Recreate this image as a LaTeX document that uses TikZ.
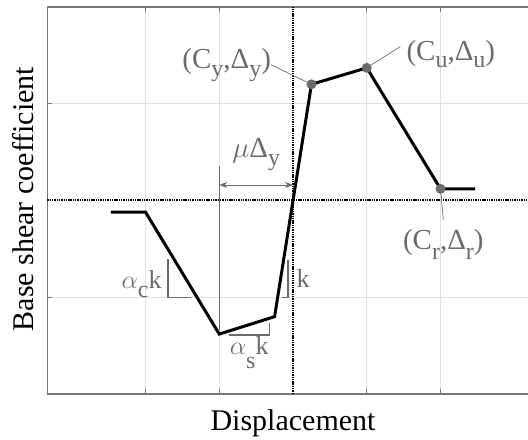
\documentclass[tikz,border=0pt]{standalone}
\usepackage{fix-cm}
\usepackage{fontspec}
\setmainfont{Liberation Serif}
\usetikzlibrary{arrows.meta}
\definecolor{labgray}{gray}{0.42}
\definecolor{gridgray}{gray}{0.88}
\definecolor{boxgray}{gray}{0.47}
\newcommand{\lsub}[2][8pt]{\raisebox{-#1}{\fontsize{24}{24}\selectfont #2}}
\tikzset{
  ptlab/.style={text=labgray, inner sep=0pt, font=\fontsize{29}{29}\selectfont},
  slopelab/.style={text=labgray, inner sep=0pt, font=\fontsize{26}{26}\selectfont},
  axlab/.style={inner sep=0pt, font=\fontsize{30}{30}\selectfont},
  ptdot/.style={circle, fill=labgray, inner sep=0pt, minimum size=10pt},
  leader/.style={labgray, line width=0.7pt},
  slope/.style={labgray, line width=1.2pt}
}
\begin{document}
\begin{tikzpicture}[x=73.75pt, y=96.8pt]
\useasboundingbox (-3.973,-2.464) rectangle (3.186,2.071);
\foreach \i in {-2,-1,1,2} \draw[gridgray, line width=0.8pt] (\i,-2)--(\i,2);
\foreach \j in {-1,1} \draw[gridgray, line width=0.8pt] (-3.33,\j)--(3.186,\j);
\draw[boxgray, line width=1.3pt] (3.186,2)--(-3.33,2)--(-3.33,-2)--(3.186,-2);
\foreach \i in {-2,-1,1,2} \draw[boxgray, line width=1.3pt] (\i,2)--++(0,-5pt) (\i,-2)--++(0,5pt);
\foreach \j in {-1,1} \draw[boxgray, line width=1.3pt] (-3.33,\j)--++(5pt,0);
\draw[line width=2pt, dash pattern=on 1.4pt off 0.9pt] (0,-2)--(0,2) (-3.33,0)--(3.186,0);

\coordinate (cy) at (0.25,1.2);
\coordinate (cu) at (1,1.37);
\coordinate (cr) at (2,0.12);
\coordinate (mul) at (-1,0.16);
\coordinate (mur) at (0,0.16);

\draw[labgray, line width=1pt] (-1,0.356)--(-1,-1.338);
\draw[labgray, line width=0.8pt, {Stealth[length=8pt,width=6pt]}-{Stealth[length=8pt,width=6pt]}] (mul)--(mur);
\draw[slope] (-1.695,-0.604)|-(-1.383,-1);
\draw[slope] (-0.069,-0.615)|-(-0.146,-1);
\draw[slope] (-0.864,-1.389)-|(-0.321,-1.269);

\draw[line width=3pt] (-2.47,-0.12)--(-2,-0.12)--(-1,-1.38)--(-0.25,-1.2)--(cy)--(cu)--(cr)--(2.47,0.12);
\node[ptdot] (cydot) at (cy) {};
\node[ptdot] (cudot) at (cu) {};
\node[ptdot] (crdot) at (cr) {};

\node[ptlab, anchor=base] (cylab) at (-0.90,1.366) {(C\lsub{y},Δ\lsub{y})};
\node[ptlab, anchor=base] (culab) at (2.14,1.451) {(C\lsub[7pt]{u},Δ\lsub[7pt]{u})};
\node[ptlab, anchor=base] (crlab) at (2.038,-0.511) {(C\lsub[10pt]{r},Δ\lsub[10pt]{r})};
\node[ptlab, anchor=base] (mulab) at (-0.5,0.44) {$\mu$Δ\lsub{y}};
\node[slopelab, anchor=base east] (aclab) at (-1.78,-0.907) {$\alpha$\lsub[9pt]{c}k};
\node[slopelab, anchor=base west] (klab) at (0.045,-0.897) {k};
\node[slopelab, anchor=base] (aslab) at (-0.594,-1.596) {$\alpha$\lsub[14pt]{s}k};

\draw[leader] (cylab.east)--(cydot);
\draw[leader] (cudot)--([xshift=-6pt,yshift=7pt]culab.west);
\draw[leader] (crdot)--([yshift=10pt]crlab.north);

\node[axlab, anchor=base] (xlab) at (0,-2.371) {Displacement};
\node[axlab, rotate=90, anchor=base] (ylab) at (-3.516,0.015) {Base shear coefficient};
\end{tikzpicture}
\end{document}
